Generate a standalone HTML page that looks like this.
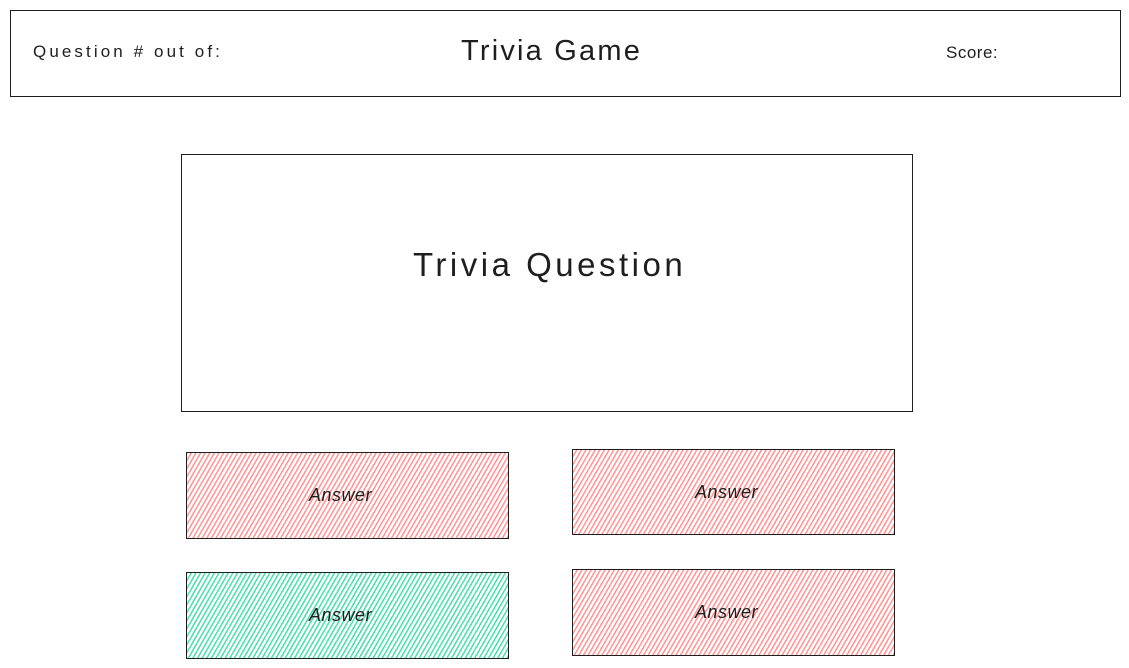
<!DOCTYPE html>
<html><head><style>
body{margin:0;width:1129px;height:668px;background:#fff;position:relative;overflow:hidden;font-family:"Liberation Sans",sans-serif;color:#1e1e1e}
.b{position:absolute;border:1.5px solid #1e1e1e;box-sizing:border-box}
.t{position:absolute;white-space:nowrap}
.r{background:repeating-linear-gradient(-60deg,#ff9a9a 0 1.6px,#fff 1.6px 4px)}
.g{background:repeating-linear-gradient(-60deg,#55dfb4 0 1.6px,#fff 1.6px 4px)}
.a{display:flex;align-items:center;justify-content:center;font-size:18px;font-style:italic;padding-right:14px;letter-spacing:0.5px}
</style></head><body>
<div class="b" style="left:10px;top:10px;width:1111px;height:87px"></div>
<div class="t" style="left:33px;top:42px;font-size:17px;letter-spacing:3.1px">Question # out of:</div>
<div class="t" style="left:461px;top:35px;font-size:29px;letter-spacing:2.2px">Trivia Game</div>
<div class="t" style="left:946px;top:43px;font-size:17px;letter-spacing:0.5px">Score:</div>
<div class="b" style="left:181px;top:154px;width:732px;height:258px"></div>
<div class="t" style="left:413px;top:246px;font-size:33px;letter-spacing:3.5px">Trivia Question</div>
<div class="b r a" style="left:186px;top:452px;width:323px;height:87px">Answer</div>
<div class="b r a" style="left:572px;top:449px;width:323px;height:86px">Answer</div>
<div class="b g a" style="left:186px;top:572px;width:323px;height:87px">Answer</div>
<div class="b r a" style="left:572px;top:569px;width:323px;height:87px">Answer</div>
</body></html>
